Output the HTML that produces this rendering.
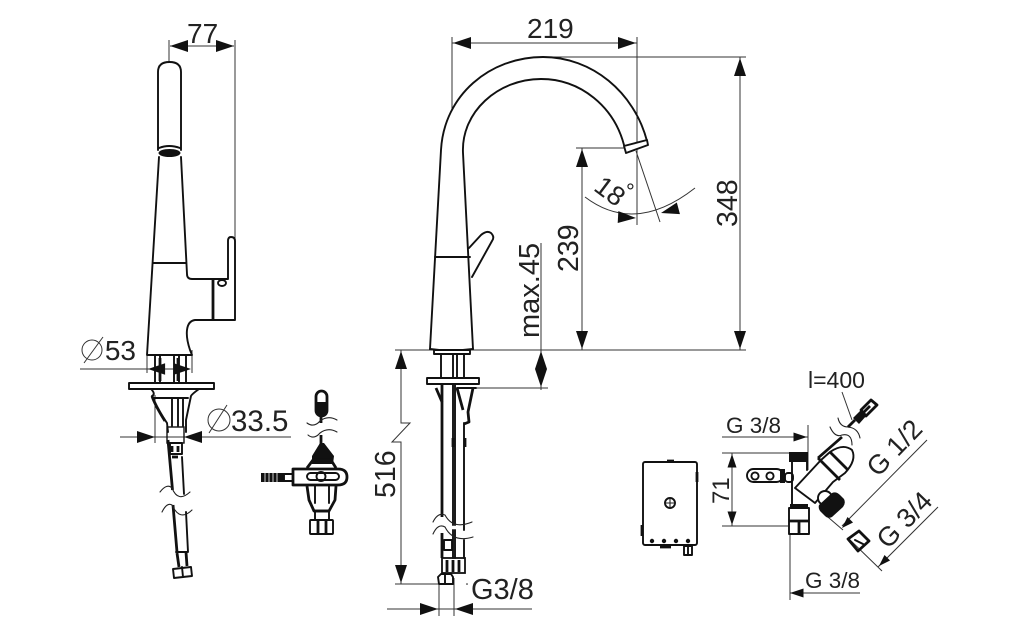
<!DOCTYPE html>
<html><head><meta charset="utf-8">
<style>html,body{margin:0;padding:0;background:#fff}svg{display:block;filter:blur(.35px)}
text{font-family:"Liberation Sans",sans-serif;fill:#222}
.o{fill:none;stroke:#111;stroke-width:1.9;stroke-linecap:round;stroke-linejoin:round}
.f{fill:none;stroke:#222;stroke-width:1.1;stroke-linecap:round}
.t{fill:none;stroke:#111;stroke-width:2.8;stroke-linejoin:round}
.d{fill:none;stroke:#333;stroke-width:1}
.k{fill:#111;stroke:none}
.w{fill:#fff;stroke:#111;stroke-width:1.9;stroke-linejoin:round}
</style></head><body>
<svg width="1024" height="628" viewBox="0 0 1024 628" xmlns="http://www.w3.org/2000/svg">
<defs>
<path id="a" d="M0 0L-18 -6V6Z" class="k"/>
</defs>
<!-- side view -->
<g class="d">
<path d="M169 40V62M235 40V240M170 46H234"/>
<path d="M80 369H190M147 350V373M192 350V373"/>
<path d="M120 437H291M155 395V443"/>
</g>
<use href="#a" transform="translate(170,46) rotate(180)"/>
<use href="#a" transform="translate(234,46)"/>
<use href="#a" transform="translate(148,369) rotate(180) scale(.95)"/>
<use href="#a" transform="translate(191,369) scale(.95)"/>
<use href="#a" transform="translate(155,437)"/>
<use href="#a" transform="translate(184,437) rotate(180)"/>
<path class="o" d="M158 150V72Q158 62 169.5 62Q181 62 181 72V150"/>
<path class="o" d="M159 157L147 355H192L190 350Q186 338 187 330Q188 321 195 320H235M181 157L187 274Q187 279 192 279H228V241Q228 237 231 237Q235 237 235 241V320M153 263H186"/>
<path class="t" d="M213 279V320"/>
<ellipse cx="169.500" cy="153" rx="11" ry="4" class="k"/>
<path class="o" d="M159 148Q169 144 180 148"/>
<ellipse cx="222" cy="283" rx="4" ry="3" class="o"/>
<!-- side lower -->
<path class="o" d="M155 355V382M186 355V382M160 356V382M174 355V382M179 355V382"/>
<path class="t" d="M160 358V381M178 358V381"/>
<rect x="129" y="383" width="85" height="6" class="w"/>
<path class="o" d="M151 389Q156 394 152 396L157 408L167 423L168 432M199 389Q192 394 191 396L186 420V432M154 398H188"/>
<path class="t" d="M152 396Q155 405 165 421"/>
<path class="o" d="M172 398V426M178 398V426M183 398V426"/>
<rect x="167" y="427" width="17" height="16" fill="none" stroke="#111" stroke-width="1.400"/>
<rect x="170" y="443" width="12" height="11" class="w"/>
<path class="t" d="M172 446V452M178 446V452"/>
<path class="t" d="M168 440L172.500 490M173 505L177 552"/>
<path class="o" d="M182 457L184 494M186 512L188 552"/>
<path class="t" d="M172 457H178"/>
<path class="f" d="M160 492Q167 483 172 488Q178 503 190 492M162 512Q167 502 172 505Q180 522 192 510"/>
<path class="o" d="M176 552H187"/>
<path class="t" d="M177 553L179 567M186 552L187 566"/>
<path class="w" d="M173 569L191 567L192 576L174 578Z"/>
<path class="o" d="M182 567L183 577"/>
<!-- valve left -->
<rect x="316" y="391" width="11" height="25" rx="5.500" class="t"/>
<path class="k" d="M316 402H327V411L323 416H320L316 411Z"/>
<path class="t" d="M321 416V423M321 435V448"/>
<path class="f" d="M307 423Q314 428 320 421Q328 415 337 420M308 435Q314 440 320 433Q328 427 337 432"/>
<path class="k" d="M320 443H324L334 456L333 464H312V456Z"/>
<path class="t" d="M307 468L313 460H331L336 468M307 486L309 500L314 511H329L335 500L336 486"/>
<path class="o" d="M315 486V503M329 486V503"/>
<rect x="261" y="473" width="23" height="9" class="k"/>
<path d="M265 473v9M269 473v9M273 473v9M277 473v9" stroke="#fff" stroke-width=".8"/>
<rect x="284" y="474" width="9" height="7" class="o"/>
<path class="t" d="M293 469H338Q347 469 347 477Q347 485 338 485H293Z"/>
<rect x="307" y="473" width="32" height="7" rx="3.500" class="o"/>
<circle cx="321" cy="476.500" r="4.500" class="o"/>
<path class="o" d="M315 511V520M329 511V520"/>
<rect x="310" y="520" width="23" height="14" rx="1" class="w" stroke-width="2.400"/>
<path class="t" d="M318 520V534M326 520V534"/>
<path class="t" d="M314 511H330"/>
<!-- main faucet -->
<g class="d">
<path d="M452 37V110M637 37V225M452 43H637"/>
<path d="M545 57H746M740 57V350M395 350H746"/>
<path d="M576 148H625M582 148V350"/>
<path d="M541 243V390M475 388H548"/>
<path d="M401 350V423H410L392 442H401V584M395 584H440"/>
<path d="M387 609H532M439 578V616M454 578V616"/>
<path d="M585 197Q635 235 695 188"/>
<path d="M636 151L660 222"/>
</g>
<use href="#a" transform="translate(453,43) rotate(180)"/>
<use href="#a" transform="translate(636,43)"/>
<use href="#a" transform="translate(740,58) rotate(-90)"/>
<use href="#a" transform="translate(740,349) rotate(90)"/>
<use href="#a" transform="translate(582,149) rotate(-90)"/>
<use href="#a" transform="translate(582,349) rotate(90)"/>
<use href="#a" transform="translate(541,351) rotate(-90)"/>
<use href="#a" transform="translate(541,387) rotate(90)"/>
<use href="#a" transform="translate(401,351) rotate(-90)"/>
<use href="#a" transform="translate(401,583) rotate(90)"/>
<use href="#a" transform="translate(438,609)"/>
<use href="#a" transform="translate(455,609) rotate(180)"/>
<use href="#a" transform="translate(636,218) rotate(3)"/>
<use href="#a" transform="translate(661,213) rotate(165)"/>
<path class="o" d="M430 349L441 150C444 95 490 57 543 57C592 57 634 92 647 141M473 349L463 153C461 112 498 79 541 79C581 79 614 107 624 145"/>
<path class="w" d="M624 146L647 140L648 145L626 153Z" stroke-width="1.500"/>
<path class="o" d="M435 257H470"/>
<path class="o" d="M469 248L481 235Q487 230 491 233Q495 237 492 241L472 277"/>
<path class="o" d="M430 349Q450 352 473 349"/>
<rect x="434" y="350" width="36" height="4" class="w" stroke-width="1.400"/>
<path class="o" d="M441 354V379M453 354V379M457 354V379M464 354V379"/>
<rect x="427" y="378" width="52" height="6" class="w"/>
<path class="o" d="M453 384V438M455 384V525M453 447V525"/>
<path class="t" d="M442 384V517M442 533V558"/>
<path class="o" d="M464 423V530M464 540V558M453 530V558M455 530V558"/>
<path class="t" d="M436 388L442 402M457 388L463 410M473 388L468 412L469 422L464 424"/>
<path class="o" d="M457 388H476"/>
<path class="t" d="M453 438V447M465 438V447"/>
<path class="f" d="M433 522Q438 512 445 515Q453 530 472 522M433 534Q438 523 445 527Q453 543 473 537"/>
<rect x="444" y="540" width="8" height="10" class="o"/>
<rect x="442" y="558" width="23" height="15" fill="none" stroke="#111" stroke-width="1.800"/>
<path class="t" d="M447 560V572M453 560V572M459 560V572"/>
<path class="w" d="M438 577L441 574H451L453 577V584H439Z" stroke-width="2.200"/>
<path class="o" d="M445 575V584"/>
<circle cx="467" cy="584" r=".8" class="k"/>
<!-- control box -->
<rect x="643" y="462" width="54" height="83" rx="2" class="o" stroke-width="2.100"/>
<circle cx="670" cy="503" r="5" class="o"/>
<path class="f" d="M665 503H675M670 498V508"/>
<circle cx="652" cy="541" r="2.200" class="k"/><circle cx="664" cy="541" r="2.200" class="k"/><circle cx="676" cy="541" r="2.200" class="k"/><circle cx="688" cy="541" r="2.200" class="k"/>
<rect x="684" y="546" width="8" height="9" class="o"/>
<path class="o" d="M688 546V555"/>
<path class="t" d="M697 472V482M642 525V536M667 461H674M660 547H671"/>
<!-- mixer valve -->
<g class="d">
<path d="M722 437H808M808 425V470"/>
<path d="M722 453H790M722 526H788M732 453V526"/>
<path d="M790 535V600M790 593H860"/>
<path d="M927 440L842 526M822 512L843 530"/>
<path d="M938 507L878 567M848 538L882 571"/>
<path d="M842 392L852 420"/>
</g>
<use href="#a" transform="translate(807,437) scale(.75)"/>
<use href="#a" transform="translate(732,454) rotate(-90) scale(.75)"/>
<use href="#a" transform="translate(732,525) rotate(90) scale(.75)"/>
<use href="#a" transform="translate(790,593) rotate(180) scale(.75)"/>
<use href="#a" transform="translate(842,528) rotate(135) scale(.65)"/>
<use href="#a" transform="translate(879,566) rotate(135) scale(.65)"/>
<rect x="789" y="452" width="19" height="10" class="k"/>
<path class="o" d="M792 462V507M807 462V470"/>
<rect x="790" y="504" width="18" height="5" class="k"/>
<rect x="789" y="508" width="20" height="26" class="w" stroke-width="2.400"/>
<path class="t" d="M799 521V534M789 521H809"/>
<rect x="747" y="469" width="36" height="13" rx="6.500" class="o"/>
<circle cx="755" cy="476" r="3.600" class="o" stroke-width="2.600"/><circle cx="770" cy="476" r="3.600" class="o" stroke-width="2.600"/>
<rect x="780" y="469" width="5" height="14" class="k"/>
<rect x="785" y="473" width="8" height="9" rx="3" class="o"/>
<path class="w" d="M795 488L821 460L830 452Q843 443 852 450Q857 460 845 473L833 482L815 503Z" stroke-width="2.200"/>
<path class="t" d="M818 458L840 480M830 452L848 470"/>
<path class="t" d="M818 458L842 437"/>
<circle cx="825" cy="498" r="7" class="w"/>
<path class="k" d="M819 505L832 493Q836 491 840 495L844 499Q846 503 843 507L832 517Q828 519 825 516L820 511Q818 508 819 505Z"/>
<path class="f" d="M830 427Q835 438 842 435Q852 433 852 445M838 418Q840 427 848 427Q858 428 860 438"/>
<path class="t" d="M848 427L855 420"/>
<path class="k" d="M853 418L861 410L867 415L859 424Z"/>
<path class="t" d="M861 410L871 400L877 405L866 416Z"/>
<path class="k" d="M863 411L869 405L871 407L865 413Z"/>
<path class="t" d="M848 539L859 531L869 541L858 551Z"/>
<path class="o" d="M855 540L863 544"/>
<!-- text -->
<text x="187" y="43" font-size="28">77</text>
<text x="527" y="38" font-size="28">219</text>
<text x="136" y="360" font-size="28" text-anchor="end">53</text>
<circle cx="92" cy="350" r="10" class="d"/>
<path class="d" d="M84 363L103 337"/>
<text x="231" y="431" font-size="29.500">33.5</text>
<circle cx="219" cy="420" r="11" class="d"/>
<path class="d" d="M209 433L227 405"/>
<text font-size="28.500" transform="translate(737,227) rotate(-90)">348</text>
<text font-size="28.500" transform="translate(578,272) rotate(-90)">239</text>
<text font-size="29" transform="translate(539,338) rotate(-90)">max.45</text>
<text font-size="28.500" transform="translate(395,498) rotate(-90)">516</text>
<text font-size="27" text-anchor="middle" transform="translate(610.500,190.500) rotate(37) translate(0,10)">18</text>
<text font-size="22" x="626" y="199">°</text>
<text x="471" y="599" font-size="29">G3/8</text>
<text x="726" y="433" font-size="22.500">G 3/8</text>
<text x="808" y="388" font-size="23">l=400</text>
<text font-size="24" transform="translate(729,504) rotate(-90)">71</text>
<text x="805" y="588" font-size="22.500">G 3/8</text>
<text font-size="27" transform="translate(878,478) rotate(-46)">G 1/2</text>
<text font-size="27" transform="translate(888,550) rotate(-46)">G 3/4</text>
</svg>
</body></html>
